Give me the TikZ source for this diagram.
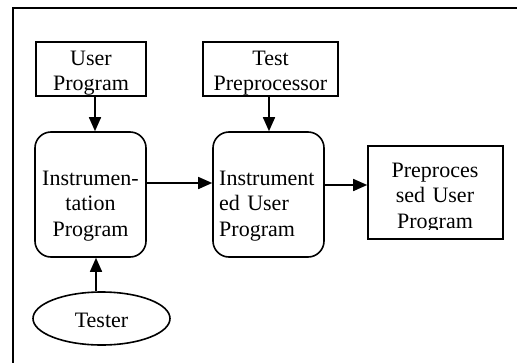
\documentclass[tikz,border=0pt]{standalone}
\usepackage{fontspec}
\setmainfont{Liberation Serif}
\usetikzlibrary{arrows.meta,shapes.geometric}
\begin{document}
\begin{tikzpicture}[x=1pt,y=-1pt,
  sqbox/.style={draw, line width=1.6pt, inner sep=0pt},
  rbox/.style={draw, line width=1.6pt, inner sep=0pt, rounded corners=16pt},
  oval/.style={draw, ellipse, line width=1.6pt, inner sep=0pt},
  txt/.style={inner sep=0pt, anchor=base, align=center, font=\fontsize{22}{25.5}\selectfont},
  arr/.style={line width=1.6pt, -{Triangle[length=14pt,width=12pt]}}]
\useasboundingbox (0,0) rectangle (517,362);
\begin{scope}
\clip (0,0) rectangle (517,362);
\draw[line width=2.4pt] (13,8) rectangle (560,400);
\end{scope}

% boxes
\node[sqbox, minimum width=110pt, minimum height=54pt] (userprog) at (91,69) {};
\node[txt, text width=110pt] (userprogt) at (91,65) {User\\Program};

\node[sqbox, minimum width=135pt, minimum height=54pt] (testpre) at (270.5,69) {};
\node[txt, text width=135pt] (testpret) at (270.5,65) {Test\\Preprocessor};

\node[rbox, minimum width=111pt, minimum height=125pt] (instr) at (90.5,194.5) {};
\node[txt, text width=111pt] (instrt) at (90.5,185) {Instrumen-\\tation\\Program};

\node[rbox, minimum width=111pt, minimum height=125pt] (instred) at (268.5,194.5) {};
\node[txt, text width=105pt, align=left, anchor=base west] (instredt) at (219,185) {Instrument\\ed User\\Program};

\node[sqbox, minimum width=135pt, minimum height=93pt] (preproc) at (435.5,192.5) {};
\begin{scope}
\clip (preproc.north west) rectangle ([yshift=10pt]preproc.south east);
\node[txt, text width=130pt] (preproct) at (435,177) {Preproces\\sed User\\Program};
\end{scope}

\node[oval, minimum width=137pt, minimum height=53pt] (tester) at (101.5,318.5) {};
\node[txt] (testert) at (101.5,327) {Tester};

% connectors
\draw[arr] ([xshift=4pt]userprog.south) -- ([xshift=4.5pt]instr.north);
\draw[arr] ([xshift=-1.5pt]testpre.south) -- ([xshift=0.5pt]instred.north);
\draw[arr] ([yshift=11.5pt]instr.east) -- ([yshift=11.5pt]instred.west);
\draw[arr] ([yshift=9.5pt]instred.east) -- ([yshift=9.5pt]instred.east -| preproc.west);
\draw[arr] ([xshift=-5.5pt]tester.north) -- ([xshift=5.5pt]instr.south);
\end{tikzpicture}
\end{document}
